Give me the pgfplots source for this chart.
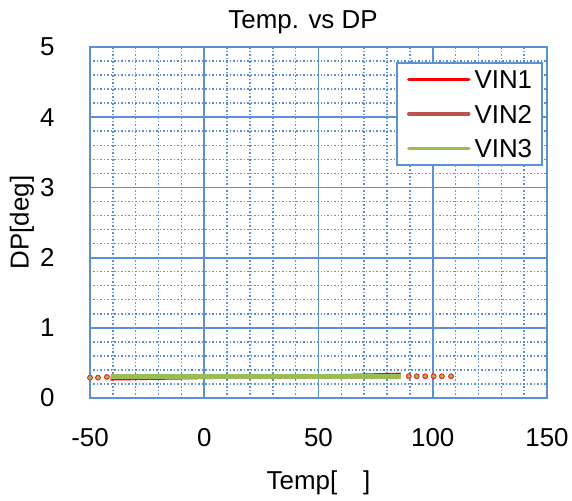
\documentclass[border=0pt]{standalone}
\usepackage{pgfplots}
\pgfplotsset{compat=1.18}
\usepackage{fontspec}
\setmainfont{Liberation Sans}
\definecolor{gridblue}{HTML}{5B8FD6}
\definecolor{vinone}{HTML}{FF0000}
\definecolor{vintwo}{HTML}{C0504D}
\definecolor{vinthree}{HTML}{9BBB59}
\newcommand{\chartfont}{\fontsize{26}{30}\selectfont}
\begin{document}
\begin{tikzpicture}[font=\chartfont]
\begin{axis}[
  name=main,
  scale only axis,
  width=457bp, height=351bp,
  xmin=-50, xmax=150, ymin=0, ymax=5,
  xtick={-50,0,50,100,150}, ytick={0,1,...,5},
  minor x tick num=4, minor y tick num=4,
  major tick length=0pt, minor tick length=0pt,
  axis line style={gridblue, line width=2.4bp},
  grid=both,
  major grid style={gridblue, line width=1.8bp},
  minor grid style={gridblue, line width=1.5bp, dotted},
  /pgf/number format/assume math mode=true,
  ticklabel style={font=\chartfont},
  xticklabel style={anchor=center, yshift=-40bp},
  yticklabel style={anchor=east, xshift=-32bp},
  xlabel={Temp[\hspace{1em}]},
  xlabel style={at={(axis description cs:0.5,-0.242)}, anchor=center},
  ylabel={DP[deg]},
  ylabel style={at={(axis description cs:-0.149,0.5)}, anchor=center},
  legend style={at={(axis description cs:0.991,0.957)}, anchor=north east,
    draw=gridblue, line width=1.5bp, font=\chartfont,
    inner xsep=10bp, inner ysep=7bp, row sep=15.5bp, column sep=4bp,
    nodes={inner sep=0pt, text height=19bp, text depth=0pt}},
  legend cell align=left,
  legend image code/.code={\draw[#1, line width=3.5bp, line cap=round] (0bp,0bp) -- (60bp,0bp);},
]
\addplot[vinone, line width=3bp, no marks] coordinates {
  (-41,0.27) (-20,0.28) (0,0.29) (20,0.30) (40,0.31) (60,0.32) (86,0.34)
};
\addlegendentry{VIN1}
\addplot[vintwo, line width=3bp, no marks] coordinates {
  (-41,0.30) (0,0.30) (40,0.31) (86,0.31)
};
\addlegendentry{VIN2}
\addplot[vinthree, line width=5bp, no marks] coordinates {
  (-41,0.31) (0,0.31) (40,0.31) (86,0.31)
};
\addlegendentry{VIN3}
\addplot[only marks, mark=*, mark size=2.6bp, vinone, forget plot] coordinates {
  (-50,0.29) (-46.5,0.29) (-42.6,0.30)
  (89.5,0.31) (93,0.31) (96.7,0.31) (100.4,0.31) (104,0.31) (108,0.31)
};
\addplot[only marks, mark=*, mark size=1.9bp, vinthree, forget plot] coordinates {
  (-50,0.29) (-46.5,0.29) (-42.6,0.30)
  (89.5,0.31) (93,0.31) (96.7,0.31) (100.4,0.31) (104,0.31) (108,0.31)
};
\end{axis}
\node[anchor=base] at (213bp,369bp) {Temp. vs DP};
\pgfresetboundingbox
\path (-90bp,-103bp) rectangle (482bp,398bp);
\end{tikzpicture}
\end{document}
